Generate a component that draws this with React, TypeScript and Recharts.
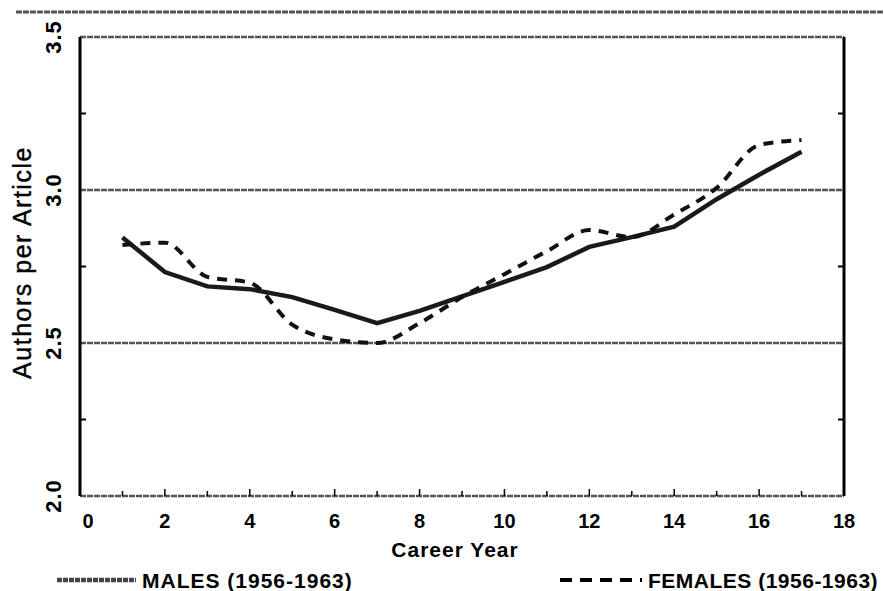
import React from 'react';
import { LineChart, Line, XAxis, YAxis, ReferenceLine } from 'recharts';

const years = [1, 2, 3, 4, 5, 6, 7, 8, 9, 10, 11, 12, 13, 14, 15, 16, 17];
const males = [2.845, 2.732, 2.685, 2.676, 2.65, 2.608, 2.565, 2.605, 2.652, 2.7, 2.748, 2.814, 2.846, 2.88, 2.97, 3.05, 3.125];
const females = [2.82, 2.828, 2.716, 2.697, 2.56, 2.512, 2.5, 2.565, 2.65, 2.725, 2.8, 2.869, 2.846, 2.92, 3.007, 3.147, 3.163];

const xTicks = [0, 1, 2, 3, 4, 5, 6, 7, 8, 9, 10, 11, 12, 13, 14, 15, 16, 17, 18];
const topTicks = [1, 2, 3, 4, 5, 6, 7, 8, 9, 10, 11, 12, 13, 14, 15, 16, 17];
const yTicks = [2.0, 2.25, 2.5, 2.75, 3.0, 3.25, 3.5];
const rightTicks = [2.25, 2.75, 3.25];
const gridValues = [3.0, 2.5];

const seriesNames = ['MALES (1956-1963)', 'FEMALES (1956-1963)'];
const xTitle = 'Career Year';
const yTitle = 'Authors per Article';

const rows = years.map((y, i) => ({ year: y, male: males[i], female: females[i] }));

const FONT = '"Liberation Sans", Arial, sans-serif';
const GRID = '#555';

const isMajorY = (v: number) => Math.abs(v * 2 - Math.round(v * 2)) < 1e-6;

const LeftTick = (props: any) => {
  const { x, y, payload } = props;
  const v = payload.value as number;
  const major = isMajorY(v);
  return (
    <g>
      {!major && <line x1={x} x2={x + 6} y1={y} y2={y} stroke="#000" strokeWidth={2} />}
      {major && (
        <text
          transform={`translate(61, ${y}) rotate(-90)`}
          textAnchor="middle"
          fontFamily={FONT}
          fontWeight="bold"
          fontSize={22}
          letterSpacing={1}
          fill="#000"
        >
          {v.toFixed(1)}
        </text>
      )}
    </g>
  );
};

const RightTick = (props: any) => {
  const { x, y } = props;
  return <line x1={x - 6} x2={x} y1={y} y2={y} stroke="#000" strokeWidth={2} />;
};

const BottomTick = (props: any) => {
  const { x, y, payload } = props;
  const v = payload.value as number;
  const even = v % 2 === 0;
  const len = even ? 7 : 5;
  const lx = v === 0 ? x + 8 : x;
  return (
    <g>
      {v !== 0 && v !== 18 && <line x1={x} x2={x} y1={y} y2={y - len} stroke="#000" strokeWidth={1.5} />}
      {even && (
        <text x={lx} y={y + 32} textAnchor="middle" fontFamily={FONT} fontWeight="bold" fontSize={20} fill="#000">
          {String(v)}
        </text>
      )}
    </g>
  );
};

const TopTick = (props: any) => {
  const { x, y } = props;
  return <line x1={x - 3} x2={x - 3} y1={y} y2={y + 6} stroke="#000" strokeWidth={1.5} />;
};

const YTitle = (props: any) => {
  const vb = props.viewBox || { y: 37, height: 459 };
  const cy = vb.y + vb.height / 2 - 4;
  return (
    <text
      transform={`translate(31, ${cy}) rotate(-90)`}
      textAnchor="middle"
      fontFamily={FONT}
      fontSize={25}
      letterSpacing={1.5}
      fill="#000"
      stroke="#000"
      strokeWidth={0.4}
    >
      {yTitle}
    </text>
  );
};

const XTitle = (props: any) => {
  const vb = props.viewBox || { x: 80, width: 764 };
  const cx = vb.x + vb.width / 2 - 7;
  return (
    <text x={cx} y={557} textAnchor="middle" fontFamily={FONT} fontWeight="bold" fontSize={21} letterSpacing={1} fill="#000">
      {xTitle}
    </text>
  );
};

export default function App() {
  return (
    <div style={{ position: 'absolute', left: 0, top: 0, width: 884, height: 591, background: '#fff' }}>
      <LineChart width={884} height={591} data={rows} margin={{ top: 37, right: 0, bottom: 0, left: 0 }}>
        <XAxis
          xAxisId="bottom"
          dataKey="year"
          type="number"
          domain={[0, 18]}
          ticks={xTicks}
          interval={0}
          height={95}
          tickSize={0}
          tickMargin={0}
          tickLine={false}
          axisLine={{ stroke: GRID, strokeWidth: 2.5, strokeDasharray: '6 1' }}
          tick={<BottomTick />}
          label={<XTitle />}
        />
        <XAxis
          xAxisId="top"
          orientation="top"
          type="number"
          domain={[0, 18]}
          ticks={topTicks}
          interval={0}
          height={0}
          tickSize={0}
          tickMargin={0}
          tickLine={false}
          axisLine={false}
          tick={<TopTick />}
        />
        <YAxis
          yAxisId="left"
          type="number"
          domain={[2, 3.5]}
          ticks={yTicks}
          interval={0}
          width={80}
          tickSize={0}
          tickMargin={0}
          tickLine={false}
          axisLine={{ stroke: '#000', strokeWidth: 3 }}
          tick={<LeftTick />}
          label={<YTitle />}
          allowDataOverflow
        />
        <YAxis
          yAxisId="right"
          orientation="right"
          type="number"
          domain={[2, 3.5]}
          ticks={rightTicks}
          interval={0}
          width={40}
          tickSize={0}
          tickMargin={0}
          tickLine={false}
          axisLine={{ stroke: '#000', strokeWidth: 3 }}
          tick={<RightTick />}
          allowDataOverflow
        />
        <ReferenceLine xAxisId="bottom" yAxisId="left" y={3.5} stroke={GRID} strokeWidth={2.5} strokeDasharray="6 1" />
        {gridValues.map((g) => (
          <ReferenceLine key={g} xAxisId="bottom" yAxisId="left" y={g} stroke={GRID} strokeWidth={2.5} strokeDasharray="6 1" />
        ))}
        <Line
          xAxisId="bottom"
          yAxisId="left"
          type="linear"
          dataKey="male"
          name={seriesNames[0]}
          stroke="#1a1a1a"
          strokeWidth={4.5}
          dot={false}
          isAnimationActive={false}
        />
        <Line
          xAxisId="bottom"
          yAxisId="left"
          type="monotone"
          dataKey="female"
          name={seriesNames[1]}
          stroke="#111"
          strokeWidth={4}
          strokeDasharray="10 8"
          dot={false}
          isAnimationActive={false}
        />
      </LineChart>
      <svg width={884} height={591} style={{ position: 'absolute', left: 0, top: 0, pointerEvents: 'none' }}>
        <line x1={16} x2={884} y1={12} y2={12} stroke="#555" strokeWidth={3} strokeDasharray="6 1" />
        <line x1={57} x2={136} y1={580} y2={580} stroke="#444" strokeWidth={4.5} strokeDasharray="5 1" />
        <text x={142} y={588} fontFamily={FONT} fontWeight="bold" fontSize={21} letterSpacing={1} fill="#000">
          {seriesNames[0]}
        </text>
        <line x1={560} x2={642} y1={580} y2={580} stroke="#000" strokeWidth={4} strokeDasharray="12 8" />
        <text x={648} y={588} fontFamily={FONT} fontWeight="bold" fontSize={21} letterSpacing={0.5} fill="#000">
          {seriesNames[1]}
        </text>
      </svg>
    </div>
  );
}
